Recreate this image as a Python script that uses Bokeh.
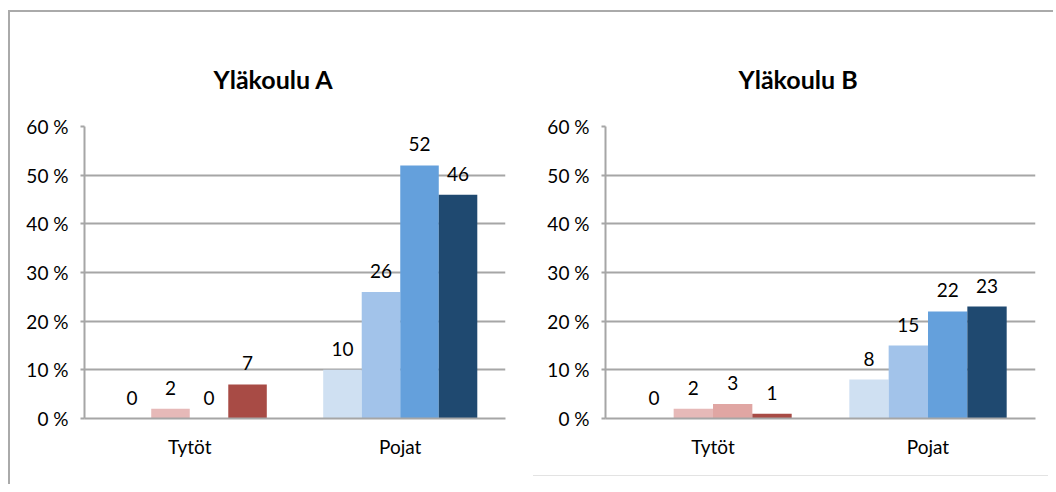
from bokeh.plotting import figure
from bokeh.models import ColumnDataSource, FactorRange, Range1d, FixedTicker, Div
from bokeh.transform import dodge
from bokeh.layouts import row, column
from bokeh.embed import file_html
from bokeh.resources import INLINE
from bokeh.core.properties import value

# ---- data ----
categories = ["Tytöt", "Pojat"]
titles = ["Yläkoulu A", "Yläkoulu B"]

a_series1 = [0, 10]
a_series2 = [2, 26]
a_series3 = [0, 52]
a_series4 = [7, 46]

b_series1 = [0, 8]
b_series2 = [2, 15]
b_series3 = [3, 22]
b_series4 = [1, 23]

y_ticks = [0, 10, 20, 30, 40, 50, 60]
y_tick_labels = ["0 %", "10 %", "20 %", "30 %", "40 %", "50 %", "60 %"]

# ---- styles ----
red_shades = ["#f2dcdb", "#e6b9b8", "#e0a6a3", "#a84b45"]
blue_shades = ["#cfe0f2", "#a2c3ea", "#64a0dc", "#1f4970"]
GRID = "#a6a6a6"
FONT = "Lato"
FS = "19px"
BAR_W = 0.183
OFFSETS = [-0.2745, -0.0915, 0.0915, 0.2745]


def make_chart(title, series, width, height, mb_left, mb_right, mb_top, mb_bottom, title_offset):
    p = figure(x_range=FactorRange(factors=categories, range_padding=0),
               y_range=Range1d(0, 60),
               width=width, height=height,
               min_border_left=mb_left, min_border_right=mb_right,
               min_border_top=mb_top, min_border_bottom=mb_bottom,
               output_backend="svg", toolbar_location=None,
               background_fill_color="white", border_fill_color="white")
    p.outline_line_color = None
    p.xgrid.grid_line_color = None
    p.ygrid.grid_line_color = GRID
    p.ygrid.grid_line_width = 2

    p.title.text = title
    p.title.align = "left"
    p.title.offset = title_offset
    p.title.standoff = 66
    p.title.text_font = FONT
    p.title.text_font_size = "25px"
    p.title.text_font_style = "bold"
    p.title.text_color = "black"

    yaxis = p.yaxis[0]
    yaxis.ticker = FixedTicker(ticks=y_ticks)
    yaxis.major_label_overrides = {t: l for t, l in zip(y_ticks, y_tick_labels)}
    yaxis.axis_line_color = GRID
    yaxis.axis_line_width = 2
    yaxis.major_tick_line_color = GRID
    yaxis.major_tick_line_width = 2
    yaxis.major_tick_out = 4
    yaxis.major_tick_in = 0
    yaxis.minor_tick_line_color = None
    yaxis.major_label_standoff = 12
    yaxis.major_label_text_font = FONT
    yaxis.major_label_text_font_size = FS
    yaxis.major_label_text_color = "black"

    xaxis = p.xaxis[0]
    xaxis.axis_line_color = GRID
    xaxis.axis_line_width = 2
    xaxis.major_tick_line_color = None
    xaxis.minor_tick_line_color = None
    xaxis.major_label_standoff = 10
    xaxis.major_label_text_font = FONT
    xaxis.major_label_text_font_size = FS
    xaxis.major_label_text_color = "black"

    for i, vals in enumerate(series):
        src = ColumnDataSource(dict(
            x=categories, top=vals,
            color=[red_shades[i], blue_shades[i]],
            label=[str(v) for v in vals]))
        xd = dodge("x", OFFSETS[i], range=p.x_range)
        p.vbar(x=xd, top="top", width=BAR_W, source=src,
               fill_color="color", line_color=None)
        p.text(x=xd, y="top", text="label", source=src,
               text_align="center", text_baseline="alphabetic", y_offset=-21,
               text_font=value(FONT), text_font_size=FS, text_color="black")
    return p


pA = make_chart(titles[0], [a_series1, a_series2, a_series3, a_series4],
                520, 472, 74, 25, 114, 66, 129)
pB = make_chart(titles[1], [b_series1, b_series2, b_series3, b_series4],
                518, 458, 75, 13, 114, 52, 133)
faint = Div(text="", width=515, height=1,
            styles={"background-color": "#e3e3e3", "margin-left": "3px"})

layout = row(pA, column(pB, faint),
             styles={"border-top": "2px solid #aaaaaa",
                     "border-left": "2px solid #aaaaaa",
                     "margin-top": "10px", "margin-left": "8px"})

open("out.html", "w").write(file_html(layout, INLINE))
